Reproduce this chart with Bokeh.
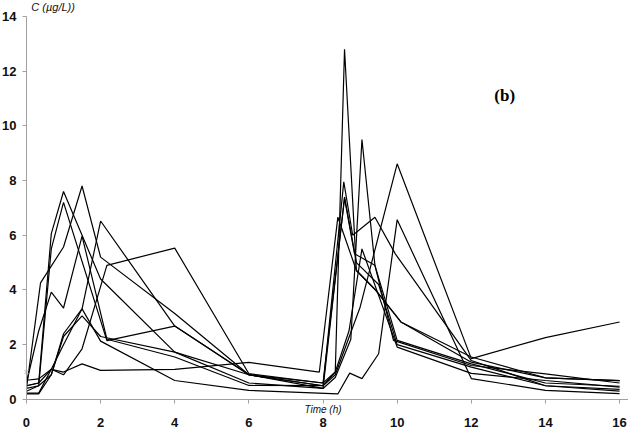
from bokeh.plotting import figure
from bokeh.models import Label, FixedTicker, Range1d
from bokeh.embed import file_html
from bokeh.resources import INLINE

# ---- data ----
t1 = [0, 0.33, 0.67, 1, 2, 4, 6, 8, 8.33, 8.58, 8.9, 9.43, 10.1, 12, 14, 16]
c1 = [0.5, 0.6, 6.06, 7.6, 4.4, 1.73, 0.9, 0.5, 1.0, 12.8, 4.71, 3.98, 2.83, 1.36, 0.79, 0.69]

t2 = [0, 0.33, 0.67, 1, 2.17, 4, 6, 8, 8.33, 8.75, 9.05, 9.4, 9.9, 12, 14, 16]
c2 = [0.3, 0.5, 5.5, 7.2, 2.15, 2.68, 0.9, 0.4, 0.8, 2.2, 9.5, 4.9, 2.16, 1.24, 0.93, 0.6]

t3 = [0, 0.38, 1, 1.5, 2, 4, 6, 8, 8.33, 9, 10, 12, 14, 16]
c3 = [0.4, 4.26, 5.57, 7.8, 5.2, 3.14, 0.9, 0.5, 0.9, 3.37, 8.61, 1.49, 2.26, 2.83]

t4 = [0, 0.33, 0.67, 1, 1.5, 2.17, 4, 6, 8, 8.56, 8.8, 9.4, 9.95, 12, 14, 16]
c4 = [0.6, 2.5, 3.92, 3.34, 5.97, 2.2, 1.55, 0.51, 0.5, 7.95, 6.0, 6.66, 5.32, 1.42, 0.5, 0.37]

t5 = [0, 0.33, 0.67, 1, 1.5, 2, 4, 6, 8, 8.33, 8.7, 9.05, 10, 12, 14, 16]
c5 = [0.2, 0.2, 0.9, 2.4, 3.31, 6.52, 2.68, 0.9, 0.6, 1.0, 2.5, 5.5, 1.91, 0.95, 0.69, 0.45]

t6 = [0, 0.33, 0.67, 1, 1.5, 2.17, 4, 6, 8, 8.58, 8.85, 9.4, 10, 12, 14, 16]
c6 = [0.5, 0.6, 1.1, 0.9, 1.85, 4.9, 5.53, 0.94, 0.6, 7.35, 5.32, 4.9, 2.16, 1.3, 0.6, 0.48]

t7 = [0, 0.33, 0.67, 1, 1.5, 2, 4, 6, 8, 8.58, 8.9, 9.5, 10, 12, 14, 16]
c7 = [0.4, 0.5, 0.9, 2.3, 3.05, 2.3, 1.73, 0.6, 0.4, 7.4, 5.0, 4.2, 2.0, 1.18, 0.5, 0.3]

t8 = [0, 0.33, 0.67, 1, 1.5, 2, 4, 6, 7.9, 8.4, 8.9, 9.43, 10.1, 12, 14, 16]
c8 = [0.7, 0.75, 1.1, 1.0, 1.3, 1.06, 1.1, 1.35, 1.0, 6.66, 4.71, 3.98, 2.83, 1.55, 0.79, 0.69]

t9 = [0, 0.33, 0.67, 1, 1.5, 2, 4, 6, 8.4, 8.72, 9.05, 9.5, 10, 12, 14, 16]
c9 = [0.23, 0.23, 1.1, 2.0, 3.31, 2.13, 0.69, 0.33, 0.2, 0.96, 0.76, 1.67, 6.57, 0.76, 0.33, 0.21]

series_t = [t1, t2, t3, t4, t5, t6, t7, t8, t9]
series_c = [c1, c2, c3, c4, c5, c6, c7, c8, c9]

x_ticks = [0, 2, 4, 6, 8, 10, 12, 14, 16]
y_ticks = [0, 2, 4, 6, 8, 10, 12, 14]

marker_t = [0]
marker_c = [1.0]

AX = "#a0a0a0"

# ---- figure: both axes drawn at fixed data positions inside the frame ----
p = figure(width=628, height=429, x_range=Range1d(-0.7, 16.24), y_range=Range1d(-1.1, 14.58),
           output_backend="svg", toolbar_location=None,
           min_border_left=0, min_border_right=0, min_border_top=0, min_border_bottom=0)
p.xgrid.visible = False
p.ygrid.visible = False
p.outline_line_color = None
p.background_fill_color = "white"
p.border_fill_color = "white"

ax = p.xaxis[0]
ax.fixed_location = 0
ax.ticker = FixedTicker(ticks=x_ticks)
ax.bounds = (0, 16.24)

ay = p.yaxis[0]
ay.fixed_location = 0
ay.ticker = FixedTicker(ticks=y_ticks)
ay.bounds = (0, 14)

for a in (ax, ay):
    a.axis_line_color = AX
    a.major_tick_line_color = AX
    a.major_tick_out = 4
    a.major_tick_in = 0
    a.minor_tick_line_color = None
    a.major_label_text_font = "Liberation Sans"
    a.major_label_text_font_size = "13px"
    a.major_label_text_font_style = "bold"
    a.major_label_text_color = "#111111"
ax.major_label_standoff = 15
ay.major_label_standoff = 6

for tt, cc in zip(series_t, series_c):
    p.line(tt, cc, line_color="black", line_width=1.2)

p.scatter(marker_t, marker_c, marker="x", size=6, line_color="#b0b0b0", line_width=1)

p.add_layout(Label(x=0.13, y=14.33, text="C (\u00b5g/L))", text_font="Liberation Sans",
                   text_font_size="11px", text_font_style="italic", text_baseline="middle",
                   text_align="left", text_color="#111111"))
p.add_layout(Label(x=8.0, y=-0.38, text="Time (h)", text_font="Liberation Sans",
                   text_font_size="10px", text_font_style="italic", text_baseline="middle",
                   text_align="center", text_color="#111111"))
p.add_layout(Label(x=12.9, y=11.1, text="(b)", text_font="Liberation Serif",
                   text_font_size="17px", text_font_style="bold", text_baseline="middle",
                   text_align="center", text_color="black"))

open("out.html", "w").write(file_html(p, INLINE))
